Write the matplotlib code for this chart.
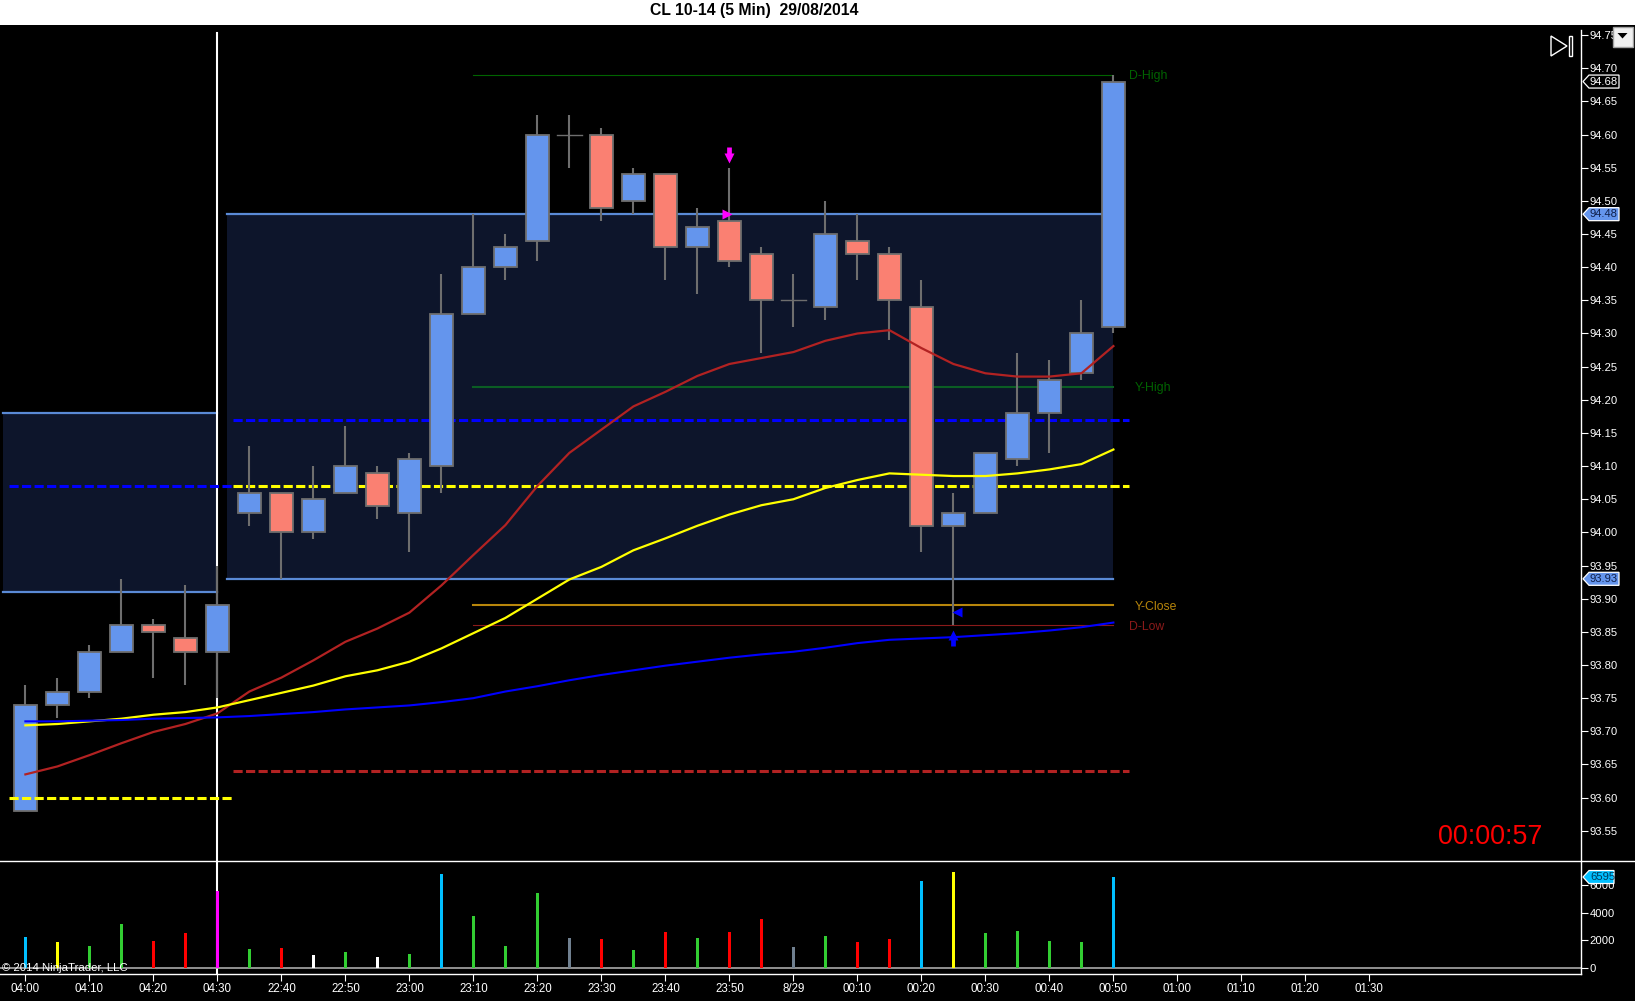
import matplotlib
matplotlib.use('Agg')
import matplotlib.pyplot as plt
from matplotlib.patches import Polygon, Rectangle

W, H = 1635, 1001
plt.rcParams['font.family'] = ['Liberation Sans', 'DejaVu Sans']

# 5 min bars, index = bar number
opens = [93.58, 93.74, 93.76, 93.82, 93.86, 93.84, 93.82, 94.03, 94.06, 94.00, 94.06, 94.09,
         94.03, 94.10, 94.33, 94.40, 94.44, 94.60, 94.60, 94.50, 94.54, 94.43, 94.47, 94.42,
         94.35, 94.34, 94.44, 94.42, 94.34, 94.01, 94.03, 94.11, 94.18, 94.24, 94.31]
highs = [93.77, 93.78, 93.83, 93.93, 93.87, 93.92, 93.95, 94.13, 94.06, 94.10, 94.16, 94.10,
         94.12, 94.39, 94.48, 94.45, 94.63, 94.63, 94.61, 94.55, 94.54, 94.49, 94.55, 94.43,
         94.39, 94.50, 94.48, 94.43, 94.38, 94.06, 94.12, 94.27, 94.26, 94.35, 94.69]
lows = [93.58, 93.72, 93.75, 93.82, 93.78, 93.77, 93.75, 94.01, 93.93, 93.99, 94.06, 94.02,
        93.97, 94.06, 94.33, 94.38, 94.41, 94.55, 94.47, 94.48, 94.38, 94.36, 94.40, 94.27,
        94.31, 94.32, 94.38, 94.29, 93.97, 93.86, 94.03, 94.10, 94.12, 94.23, 94.30]
closes = [93.74, 93.76, 93.82, 93.86, 93.85, 93.82, 93.89, 94.06, 94.00, 94.05, 94.10, 94.04,
          94.11, 94.33, 94.40, 94.43, 94.60, 94.60, 94.49, 94.54, 94.43, 94.46, 94.41, 94.35,
          94.35, 94.45, 94.42, 94.35, 94.01, 94.03, 94.12, 94.18, 94.23, 94.30, 94.68]

ema_red = [93.635, 93.647, 93.664, 93.682, 93.699, 93.711, 93.727, 93.760, 93.781, 93.807, 93.835, 93.855,
           93.879, 93.920, 93.966, 94.011, 94.070, 94.120, 94.155, 94.190, 94.212, 94.236, 94.254, 94.263,
           94.272, 94.289, 94.300, 94.305, 94.278, 94.254, 94.240, 94.235, 94.235, 94.240, 94.281]
ema_yellow = [93.709, 93.711, 93.715, 93.719, 93.725, 93.729, 93.736, 93.747, 93.758, 93.769, 93.783, 93.792,
              93.805, 93.825, 93.848, 93.871, 93.900, 93.929, 93.948, 93.973, 93.991, 94.010, 94.027, 94.041,
              94.050, 94.067, 94.079, 94.089, 94.087, 94.085, 94.085, 94.089, 94.095, 94.103, 94.125]
ema_blue = [93.715, 93.715, 93.716, 93.717, 93.719, 93.720, 93.721, 93.723, 93.726, 93.729, 93.733, 93.736,
            93.739, 93.744, 93.750, 93.760, 93.768, 93.777, 93.785, 93.792, 93.799, 93.805, 93.811, 93.816,
            93.820, 93.826, 93.833, 93.838, 93.840, 93.842, 93.845, 93.848, 93.852, 93.857, 93.864]

volume = [2230, 1867, 1576, 3176, 1940, 2520, 5575, 1358, 1430, 920, 1140, 776,
          994, 6812, 3757, 1576, 5430, 2157, 2085, 1285, 2594, 2157, 2594, 3540,
          1503, 2303, 1867, 2085, 6300, 6957, 2520, 2667, 1940, 1867, 6595]
vol_kind = ['c', 'y', 'g', 'g', 'r', 'r', 'm', 'g', 'r', 'w', 'g', 'w',
            'g', 'c', 'g', 'g', 'g', 's', 'r', 'g', 'r', 'g', 'r', 'r',
            's', 'g', 'r', 'r', 'c', 'y', 'g', 'g', 'g', 'g', 'c']
vol_colors = {'c': '#00bfff', 'y': '#ffff00', 'g': '#32cd32', 'r': '#ff0000',
              'm': '#ff00ff', 'w': '#ffffff', 's': '#708090'}

x_ticks = [0, 2, 4, 6, 8, 10, 12, 14, 16, 18, 20, 22, 24, 26, 28, 30, 32, 34, 36, 38, 40, 42]
x_labels = ['04:00', '04:10', '04:20', '04:30', '22:40', '22:50', '23:00', '23:10', '23:20', '23:30', '23:40',
            '23:50', '8/29', '00:10', '00:20', '00:30', '00:40', '00:50', '01:00', '01:10', '01:20', '01:30']
price_ticks = [93.55, 93.60, 93.65, 93.70, 93.75, 93.80, 93.85, 93.90, 93.95, 94.00, 94.05, 94.10, 94.15,
               94.20, 94.25, 94.30, 94.35, 94.40, 94.45, 94.50, 94.55, 94.60, 94.65, 94.70, 94.75]
vol_ticks = [0, 2000, 4000, 6000]

# session boxes: first bar, last bar, top, bottom
old_box = (-0.7, 6.0, 94.18, 93.91)
new_box = (6.3, 34.0, 94.48, 93.93)
old_pivot, old_close = 94.07, 93.60
new_pivot, new_open, new_red = 94.17, 94.07, 93.64
d_high, y_high, y_close, d_low = 94.69, 94.22, 93.89, 93.86

CANDLE_EDGE = '#6e6e6e'
UP = '#6495ed'
DOWN = '#fa8072'
BOX = '#0d152b'
BOX_EDGE = '#5a8ad6'

fig = plt.figure(figsize=(W / 100, H / 100), dpi=100, facecolor='black')

def px_axes(left, top, right, bottom):
    return fig.add_axes([left / W, 1 - bottom / H, (right - left) / W, (bottom - top) / H])

AX_RIGHT = 1581.4
MAIN_TOP, MAIN_BOTTOM, VOL_BOTTOM = 25.0, 861.3, 974.3
ax = px_axes(0, MAIN_TOP, AX_RIGHT, MAIN_BOTTOM)
ax2 = px_axes(0, MAIN_BOTTOM, AX_RIGHT, VOL_BOTTOM)

xlim = (-25.4 / 32, (AX_RIGHT - 25.4) / 32)
for a in (ax, ax2):
    a.set_facecolor('black')
    a.set_xlim(xlim)
    for s in a.spines.values():
        s.set_visible(False)
ax.set_ylim(94.70 - (MAIN_BOTTOM - 68.3) / 663, 94.70 + (68.3 - MAIN_TOP) / 663)
ax2.set_ylim(-(VOL_BOTTOM - 967.7) / 27.5 * 2000, (967.7 - MAIN_BOTTOM) / 27.5 * 2000)

# boxes
for x0, x1, top, bottom in (old_box, new_box):
    ax.add_patch(Rectangle((x0, bottom), x1 - x0, top - bottom, fc=BOX, ec='none', zorder=1))
    ax.plot([x0, x1], [top, top], color=BOX_EDGE, lw=1.6, zorder=1.2)
    ax.plot([x0, x1], [bottom, bottom], color=BOX_EDGE, lw=1.6, zorder=1.2)

# cursor line
ax.axvline(6, ymax=(MAIN_BOTTOM - 33) / (MAIN_BOTTOM - MAIN_TOP), color='white', lw=1.5, zorder=1.5)
ax2.axvline(6, ymin=(VOL_BOTTOM - 973) / (VOL_BOTTOM - MAIN_BOTTOM), color='white', lw=1.5, zorder=1.5)

# levels
dash = (3.0, 1.1)
ax.plot([-0.5, 6.5], [old_pivot, old_pivot], color='#0000ff', lw=2.2, dashes=dash, zorder=2)
ax.plot([-0.5, 6.5], [old_close, old_close], color='#ffff00', lw=2.2, dashes=dash, zorder=3.5)
ax.plot([6.5, 34.5], [new_pivot, new_pivot], color='#0000ff', lw=2.2, dashes=dash, zorder=2)
ax.plot([6.5, 34.5], [new_open, new_open], color='#ffff00', lw=2.2, dashes=dash, zorder=2)
ax.plot([6.5, 34.5], [new_red, new_red], color='#b22222', lw=2.2, dashes=dash, zorder=2)

ax.plot([14, 34], [d_high, d_high], color='#006400', lw=0.8, zorder=2)
ax.plot([14, 34], [y_high, y_high], color='#0b5d24', lw=1.5, zorder=2)
ax.plot([14, 34], [y_close, y_close], color='#b8860b', lw=1.5, zorder=2)
ax.plot([14, 34], [d_low, d_low], color='#8b1a1a', lw=0.8, zorder=2)

# candles
for i in range(len(opens)):
    ax.plot([i, i], [lows[i], highs[i]], color=CANDLE_EDGE, lw=1.5, zorder=3, solid_capstyle='butt')
    body = closes[i] - opens[i]
    if body == 0:
        ax.plot([i - 0.39, i + 0.39], [opens[i], opens[i]], color=CANDLE_EDGE, lw=1, zorder=3)
    else:
        ax.bar(i, abs(body), bottom=min(opens[i], closes[i]), width=0.74,
               color=UP if body > 0 else DOWN, edgecolor=CANDLE_EDGE, linewidth=1.3, zorder=3.1)

bars = list(range(len(opens)))
ax.plot(bars, ema_red, color='#b22222', lw=1.6, zorder=4)
ax.plot(bars, ema_yellow, color='#ffff00', lw=1.6, zorder=4)
ax.plot(bars, ema_blue, color='#0000ff', lw=1.5, zorder=4)

# entry / exit signals
ax.plot([22, 22], [94.581, 94.567], color='#ff00ff', lw=3.4, zorder=5, solid_capstyle='butt')
ax.plot(22, 94.565, marker='v', ms=7.5, color='#ff00ff', mec='none', zorder=5)
ax.plot(21.92, 94.48, marker='>', ms=6.5, color='#ff00ff', mec='none', zorder=5)
ax.plot([29, 29], [93.829, 93.843], color='#0000ff', lw=3.4, zorder=5, solid_capstyle='butt')
ax.plot(29, 93.845, marker='^', ms=7.5, color='#0000ff', mec='none', zorder=5)
ax.plot(29.12, 93.88, marker='<', ms=7, color='#0000ff', mec='none', zorder=5)

# volume
ax2.bar(bars, volume, width=0.095, color=[vol_colors[k] for k in vol_kind], zorder=3)
ax2.axhline(0, color='#a9a9a9', lw=1.2, zorder=2)

# ticks
ax.yaxis.tick_right()
ax.set_yticks(price_ticks)
ax.set_yticklabels(['%.2f' % p for p in price_ticks])
ax.set_xticks([])
ax2.yaxis.tick_right()
ax2.set_yticks(vol_ticks)
ax2.set_yticklabels([str(v) for v in vol_ticks])
ax2.set_xticks(x_ticks)
ax2.set_xticklabels(x_labels)
for a in (ax, ax2):
    a.tick_params(axis='y', colors='white', labelsize=8.1, length=5, width=0.8, pad=0.8)
ax2.tick_params(axis='x', colors='white', labelsize=8.3, length=5, width=0.8, pad=1.3)

# chrome in pixel coordinates
ov = fig.add_axes([0, 0, 1, 1], zorder=10)
ov.set_xlim(0, W)
ov.set_ylim(H, 0)
ov.axis('off')

def price_y(a, v):
    return H - a.transData.transform((0, v))[1]

def tag(y, text, fc, ec, tc, right=1619):
    ov.add_patch(Polygon([(1583, y), (1589, y - 6.5), (right, y - 6.5), (right, y + 6.5), (1589, y + 6.5)],
                         closed=True, fc=fc, ec=ec, lw=0.9))
    ov.text(1590, y, text, color=tc, fontsize=8.1, va='center', ha='left')

ov.add_patch(Rectangle((0, 0), W, MAIN_TOP, fc='white', ec='none'))
ov.text(754, 10.5, 'CL 10-14 (5 Min)  29/08/2014', color='black', fontsize=11.3, fontweight='bold',
        ha='center', va='center')

ov.plot([0, W], [MAIN_BOTTOM, MAIN_BOTTOM], color='white', lw=1)
ov.plot([0, AX_RIGHT], [VOL_BOTTOM, VOL_BOTTOM], color='white', lw=1)
ov.plot([AX_RIGHT, AX_RIGHT], [30, VOL_BOTTOM], color='white', lw=1)

ov.text(1129, 76, 'D-High', color='#006400', fontsize=8.8, va='center')
ov.text(1135, 388, 'Y-High', color='#006400', fontsize=8.8, va='center')
ov.text(1135, 607, 'Y-Close', color='#b8860b', fontsize=8.8, va='center')
ov.text(1129, 627, 'D-Low', color='#8b1a1a', fontsize=8.8, va='center')

ov.text(1490.5, 837, '00:00:57', color='#ff0000', fontsize=19.4, ha='center', va='center')
ov.text(2, 968, '\u00a9 2014 NinjaTrader, LLC', color='white', fontsize=8.2, va='center')

tag(price_y(ax, 94.68), '94.68', 'black', 'white', 'white')
tag(price_y(ax, 94.48), '94.48', UP, 'white', '#10204a')
tag(price_y(ax, 93.93), '93.93', UP, 'white', '#10204a')
tag(price_y(ax2, 6595), '6595', '#00bfff', 'white', '#003a5a', right=1614)

# scroll button and drop-down
ov.add_patch(Polygon([(1551, 36), (1567, 46), (1551, 56)], closed=True, fc='none', ec='white', lw=1))
ov.add_patch(Rectangle((1568.5, 36), 3, 20, fc='none', ec='white', lw=1))
ov.add_patch(Rectangle((1613, 27), 20, 20, fc='#f0f0f0', ec='#a0a0a0', lw=1))
ov.add_patch(Polygon([(1617.5, 33), (1627.5, 33), (1622.5, 38.5)], closed=True, fc='black', ec='none'))

fig.savefig('out.png', dpi=100, facecolor='black')
